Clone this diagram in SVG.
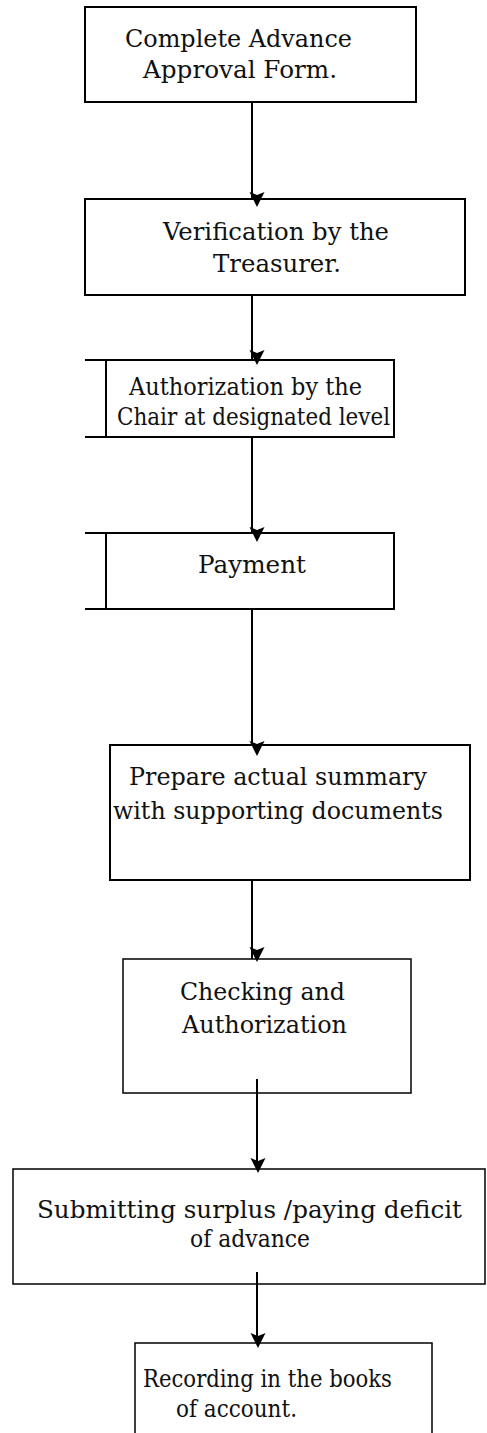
<svg xmlns="http://www.w3.org/2000/svg" width="487" height="1433" viewBox="0 0 487 1433">
  <style>
    .box { fill: #ffffff; stroke: #000000; stroke-width: 2; }
    .thin { fill: none; stroke: #000000; stroke-width: 1.5; }
    .edge { fill: none; stroke: #000000; stroke-width: 2; }
    .lbl { font-family: "DejaVu Serif", "Liberation Serif", serif; font-size: 24px; fill: #111111; }
    .head { fill: #000000; }
  </style>
  <defs>
    <!-- arrowhead, tip at (0,0) -->
    <path id="tip" d="M -7.5 -14 L 0 -11 L 7.5 -14 L 0 1 Z"/>
  </defs>
  <rect width="487" height="1433" fill="#ffffff"/>

  <g id="node-approval-form">
    <rect class="box" x="85" y="7" width="331" height="95"/>
    <text class="lbl" x="125" y="47" textLength="227" lengthAdjust="spacingAndGlyphs">Complete Advance</text>
    <text class="lbl" x="143" y="78" textLength="194" lengthAdjust="spacingAndGlyphs">Approval Form.</text>
  </g>

  <g id="node-verification">
    <rect class="box" x="85" y="199" width="380" height="96"/>
    <text class="lbl" x="163" y="240" textLength="226" lengthAdjust="spacingAndGlyphs">Verification by the</text>
    <text class="lbl" x="213" y="272" textLength="128" lengthAdjust="spacingAndGlyphs">Treasurer.</text>
  </g>

  <g id="node-authorization">
    <path class="edge" d="M 85 360 H 394 V 437 H 85 M 106 360 V 437"/>
    <text class="lbl" x="129" y="395" textLength="233" lengthAdjust="spacingAndGlyphs">Authorization by the</text>
    <text class="lbl" x="117" y="425" textLength="273" lengthAdjust="spacingAndGlyphs">Chair at designated level</text>
  </g>

  <g id="node-payment">
    <path class="edge" d="M 85 533 H 394 V 609 H 85 M 106 533 V 609"/>
    <text class="lbl" x="198" y="573" textLength="108" lengthAdjust="spacingAndGlyphs">Payment</text>
  </g>

  <g id="node-summary">
    <rect class="box" x="110" y="745" width="360" height="135"/>
    <text class="lbl" x="129" y="785" textLength="298" lengthAdjust="spacingAndGlyphs">Prepare actual summary</text>
    <text class="lbl" x="113" y="819" textLength="330" lengthAdjust="spacingAndGlyphs">with supporting documents</text>
  </g>

  <g id="node-checking">
    <rect class="thin" x="123" y="959" width="288" height="134"/>
    <text class="lbl" x="180" y="1000" textLength="165" lengthAdjust="spacingAndGlyphs">Checking and</text>
    <text class="lbl" x="182" y="1033" textLength="165" lengthAdjust="spacingAndGlyphs">Authorization</text>
  </g>

  <g id="node-surplus">
    <rect class="thin" x="13" y="1169" width="472" height="115"/>
    <text class="lbl" x="37" y="1218" textLength="425" lengthAdjust="spacingAndGlyphs">Submitting surplus /paying deficit</text>
    <text class="lbl" x="190" y="1247" textLength="120" lengthAdjust="spacingAndGlyphs">of advance</text>
  </g>

  <g id="node-recording">
    <path class="thin" d="M 135 1440 V 1343 H 432 V 1440"/>
    <text class="lbl" x="143" y="1387" textLength="249" lengthAdjust="spacingAndGlyphs">Recording in the books</text>
    <text class="lbl" x="176" y="1417" textLength="121" lengthAdjust="spacingAndGlyphs">of account.</text>
  </g>

  <g id="connectors">
    <line class="edge" x1="252" y1="102" x2="252" y2="199"/>
    <use href="#tip" class="head" x="257" y="206"/>
    <line class="edge" x1="252" y1="295" x2="252" y2="360"/>
    <use href="#tip" class="head" x="257" y="364"/>
    <line class="edge" x1="252" y1="437" x2="252" y2="533"/>
    <use href="#tip" class="head" x="257" y="541"/>
    <line class="edge" x1="252" y1="609" x2="252" y2="745"/>
    <use href="#tip" class="head" x="257" y="755"/>
    <line class="edge" x1="252" y1="880" x2="252" y2="959"/>
    <use href="#tip" class="head" x="257" y="961"/>
    <line class="edge" x1="257" y1="1079" x2="257" y2="1169"/>
    <use href="#tip" class="head" x="258" y="1172"/>
    <line class="edge" x1="257" y1="1272" x2="257" y2="1343"/>
    <use href="#tip" class="head" x="258" y="1347"/>
  </g>
</svg>
